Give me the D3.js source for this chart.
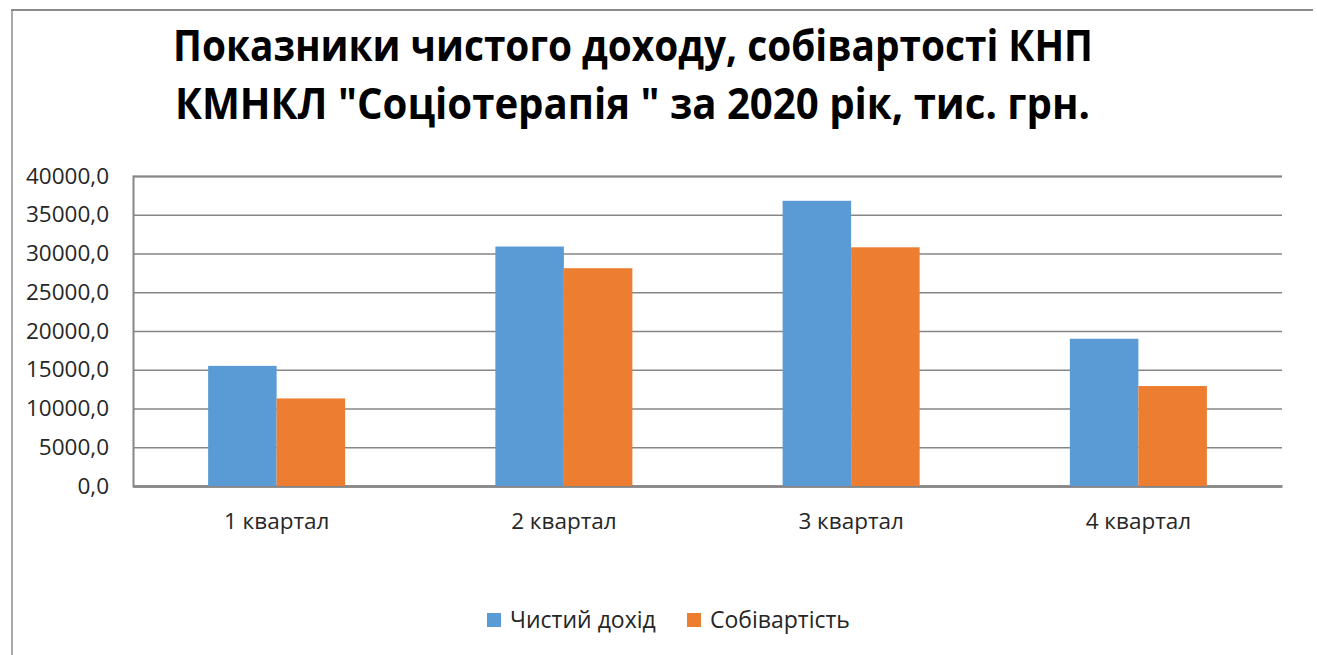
<!DOCTYPE html>
<html lang="uk">
<head>
    <meta charset="UTF-8">
    <title>Показники чистого доходу</title>
    <style>
        body { margin: 0; background: #fff; }
        svg { display: block; }
        text { font-family: "Open Sans", "Noto Sans", sans-serif; fill: #262626; }
    </style>
</head>
<body>
    <svg id="container" width="1317" height="655">
        <g id="frame"></g>
        <g id="title"></g>
        <g id="yAxis"></g>
        <g id="xAxis"></g>
        <g id="body"></g>
        <g id="legend"></g>
    </svg>

<script src="https://cdn.jsdelivr.net/npm/d3@7"></script>
<script>

    let titleLines = ["Показники чистого доходу, собівартості КНП",
                      "КМНКЛ \"Соціотерапія \" за 2020 рік, тис. грн."]
    let quarters = ["1 квартал", "2 квартал", "3 квартал", "4 квартал"]
    let seriesNames = ["Чистий дохід", "Собівартість"]
    let netIncome = [15500, 30900, 36800, 19000]
    let costPrice = [11300, 28100, 30800, 12900]
    let yTicks = [0, 5000, 10000, 15000, 20000, 25000, 30000, 35000, 40000]

    let colors = ["#5b9bd5", "#ed7d31"]
    let labelSize = "22.5px"

    // outer chart frame (top and left edges only are visible)
    let frame = d3.select("#frame")
    frame.append("line")
        .attr("x1", 11).attr("x2", 1313).attr("y1", 10).attr("y2", 10)
        .attr("stroke", "#8c8c8c").attr("stroke-width", 2)
    frame.append("line")
        .attr("x1", 12).attr("x2", 12).attr("y1", 10).attr("y2", 655)
        .attr("stroke", "#8c8c8c").attr("stroke-width", 1.5)

    // title
    d3.select("#title").selectAll("text")
        .data(titleLines)
        .enter()
        .append("text")
        .attr("x", (d, i) => i == 0 ? 173 : 175)
        .attr("y", (d, i) => 61 + i * 58)
        .attr("textLength", (d, i) => i == 0 ? 920 : 915)
        .attr("lengthAdjust", "spacingAndGlyphs")
        .style("font-size", "43px")
        .style("font-weight", "bold")
        .style("fill", "#000")
        .text(d => d)

    let plotLeft = 133, plotRight = 1282, plotTop = 176, plotBottom = 486

    let yScale = d3.scaleLinear()
        .domain([0, 40000])
        .range([plotBottom, plotTop])

    let xScale = d3.scaleBand()
        .domain(quarters)
        .range([plotLeft, plotRight])
        .paddingInner(0.523)
        .paddingOuter(0.2615)

    let innerScale = d3.scaleBand()
        .domain(seriesNames)
        .range([0, xScale.bandwidth()])

    let yAxis = d3.axisLeft(yScale)
        .tickValues(yTicks)
        .tickSize(-(plotRight - plotLeft))
        .tickPadding(24)
        .tickFormat(d => d.toFixed(1).replace(".", ","))
    let yG = d3.select("#yAxis")
        .attr("transform", `translate(${plotLeft},0)`)
        .call(yAxis)
    yG.select(".domain").attr("stroke", "#868686").attr("stroke-width", 2)
    yG.selectAll(".tick line").attr("stroke", "#868686").attr("stroke-width", 1.5)
    yG.selectAll(".tick text")
        .style("font-size", labelSize)
        .style("font-family", "'Open Sans', sans-serif")
        .attr("fill", "#262626")

    let xAxis = d3.axisBottom(xScale)
        .tickSize(0)
        .tickPadding(27)
    let xG = d3.select("#xAxis")
        .attr("transform", `translate(0,${plotBottom})`)
        .call(xAxis)
    xG.select(".domain").attr("stroke", "#868686").attr("stroke-width", 2.5)
    xG.selectAll(".tick text")
        .style("font-size", labelSize)
        .style("font-family", "'Open Sans', sans-serif")
        .attr("fill", "#262626")

    let rows = quarters.map((q, i) => ({ quarter: q, values: [netIncome[i], costPrice[i]] }))

    let groups = d3.select("#body")
        .selectAll("g")
        .data(rows)
        .enter()
        .append("g")
        .attr("transform", d => `translate(${xScale(d.quarter)},0)`)

    groups.selectAll("rect")
        .data(d => d.values.map((v, i) => ({ name: seriesNames[i], value: v, i: i })))
        .enter()
        .append("rect")
        .attr("x", d => innerScale(d.name))
        .attr("width", innerScale.bandwidth())
        .attr("y", d => yScale(d.value))
        .attr("height", d => plotBottom - yScale(d.value))
        .attr("fill", d => colors[d.i])

    // legend
    let legendX = [487, 687]
    let legend = d3.select("#legend")
        .selectAll("g")
        .data(seriesNames)
        .enter()
        .append("g")
        .attr("transform", (d, i) => `translate(${legendX[i]},613)`)
    legend.append("rect")
        .attr("width", 14).attr("height", 14)
        .attr("fill", (d, i) => colors[i])
    legend.append("text")
        .attr("x", 23)
        .attr("y", 15)
        .style("font-size", "23px")
        .text(d => d)

</script>
</body>
</html>
